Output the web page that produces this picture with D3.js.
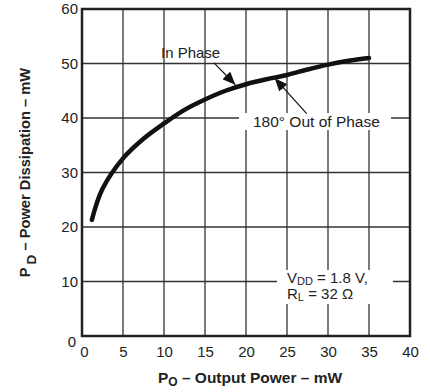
<!DOCTYPE html>
<html><head><meta charset="utf-8">
<script src="https://cdn.jsdelivr.net/npm/d3@7"></script>
<style>body{margin:0;background:#fff}svg{display:block}text{font-family:"Liberation Sans",Arial,sans-serif;fill:#222}</style>
</head><body><svg id="c" width="430" height="392"></svg>
<script>
// Data
const outputPower = [1.2, 2.5, 5, 7.5, 10, 12.5, 15, 17.5, 20, 22.5, 25, 27.5, 30, 32.5, 35];
const powerDissipation = [21.3, 27.0, 32.6, 36.2, 39.0, 41.5, 43.4, 45.0, 46.2, 47.1, 47.9, 48.9, 49.8, 50.5, 51.0];
const xTicks = [0, 5, 10, 15, 20, 25, 30, 35, 40];
const yTicks = [0, 10, 20, 30, 40, 50, 60];

const svg = d3.select("#c");
const x = d3.scaleLinear().domain([0, 40]).range([82, 410]);
const y = d3.scaleLinear().domain([0, 60]).range([336, 9]);

// grid
const g = svg.append("g");
g.selectAll(".vx").data(xTicks.slice(1, -1)).join("line")
  .attr("x1", d => x(d)).attr("x2", d => x(d)).attr("y1", y(0)).attr("y2", y(60))
  .attr("stroke", "#333").attr("stroke-width", 1.3);
g.selectAll(".hy").data(yTicks.slice(1, -1)).join("line")
  .attr("y1", d => y(d)).attr("y2", d => y(d)).attr("x1", x(0)).attr("x2", x(40))
  .attr("stroke", "#333").attr("stroke-width", 1.3);

// white label boxes
svg.append("rect").attr("x", 239).attr("y", 113).attr("width", 152).attr("height", 17).attr("fill", "#fff");
svg.append("rect").attr("x", 277).attr("y", 270).attr("width", 116).attr("height", 34).attr("fill", "#fff");

// frame
svg.append("rect").attr("x", x(0)).attr("y", y(60)).attr("width", x(40) - x(0)).attr("height", y(0) - y(60))
  .attr("fill", "none").attr("stroke", "#222").attr("stroke-width", 2.5);

// axes labels via d3 axes (no tick lines)
const xAxis = svg.append("g").attr("transform", `translate(0,${y(0)})`)
  .call(d3.axisBottom(x).tickValues(xTicks).tickSize(0).tickPadding(10).tickFormat(d3.format("d")));
xAxis.select(".domain").remove();
xAxis.selectAll("text").attr("font-size", 15).attr("font-family", "Liberation Sans, Arial, sans-serif").attr("fill", "#222");
xAxis.selectAll(".tick").filter(d => d === 0).select("text").attr("dx", 2);

const yAxis = svg.append("g").attr("transform", `translate(${x(0)},0)`)
  .call(d3.axisLeft(y).tickValues(yTicks).tickSize(0).tickPadding(4).tickFormat(d3.format("d")));
yAxis.select(".domain").remove();
yAxis.selectAll("text").attr("font-size", 15).attr("font-family", "Liberation Sans, Arial, sans-serif").attr("fill", "#222");
yAxis.selectAll(".tick").filter(d => d === 0).select("text").attr("dy", "0.7em").attr("dx", -2);

// curve
const line = d3.line().x((d, i) => x(outputPower[i])).y(d => y(d)).curve(d3.curveCatmullRom);
svg.append("path").datum(powerDissipation).attr("d", line)
  .attr("fill", "none").attr("stroke", "#111").attr("stroke-width", 4.5).attr("stroke-linecap", "round");

// arrows
const defs = svg.append("defs");
defs.append("marker").attr("id", "ah").attr("viewBox", "0 0 10 10").attr("refX", 10).attr("refY", 5)
  .attr("markerWidth", 13).attr("markerHeight", 11).attr("markerUnits", "userSpaceOnUse").attr("orient", "auto")
  .attr("preserveAspectRatio", "none")
  .append("path").attr("d", "M0,0L10,5L0,10z").attr("fill", "#111");
svg.append("line").attr("x1", x(16.1)).attr("y1", y(50.1)).attr("x2", x(18.7)).attr("y2", y(46.1))
  .attr("stroke", "#111").attr("stroke-width", 1.2).attr("marker-end", "url(#ah)");
svg.append("line").attr("x1", x(27.4)).attr("y1", y(40.8)).attr("x2", x(23.5)).attr("y2", y(47.3))
  .attr("stroke", "#111").attr("stroke-width", 1.2).attr("marker-end", "url(#ah)");

// annotations
svg.append("text").attr("x", 161).attr("y", 58).attr("font-size", 15).text("In Phase");
svg.append("text").attr("x", 253).attr("y", 127).attr("font-size", 15.5).text("180° Out of Phase");
const t1 = svg.append("text").attr("x", 287).attr("y", 283).attr("font-size", 15);
t1.append("tspan").text("V");
t1.append("tspan").attr("font-size", 11).attr("dy", 2).text("DD");
t1.append("tspan").attr("dy", -2).text(" = 1.8 V,");
const t2 = svg.append("text").attr("x", 287).attr("y", 299).attr("font-size", 15);
t2.append("tspan").text("R");
t2.append("tspan").attr("font-size", 11).attr("dy", 2).text("L");
t2.append("tspan").attr("dy", -2).text(" = 32 Ω");

// axis titles
const xt = svg.append("text").attr("x", 250).attr("y", 383).attr("text-anchor", "middle")
  .attr("font-size", 15.5).attr("font-weight", "bold");
xt.append("tspan").text("P");
xt.append("tspan").attr("font-size", 12).attr("dy", 3).text("O");
xt.append("tspan").attr("dy", -3).text(" – Output Power – mW");

const yt = svg.append("text").attr("transform", `translate(30,${(y(0) + y(60)) / 2}) rotate(-90)`)
  .attr("text-anchor", "middle").attr("font-size", 14.7).attr("font-weight", "bold");
yt.append("tspan").text("P");
yt.append("tspan").attr("font-size", 13.5).attr("dx", 3).attr("dy", 6).text("D");
yt.append("tspan").attr("dy", -6).text(" – Power Dissipation – mW");
</script></body></html>
